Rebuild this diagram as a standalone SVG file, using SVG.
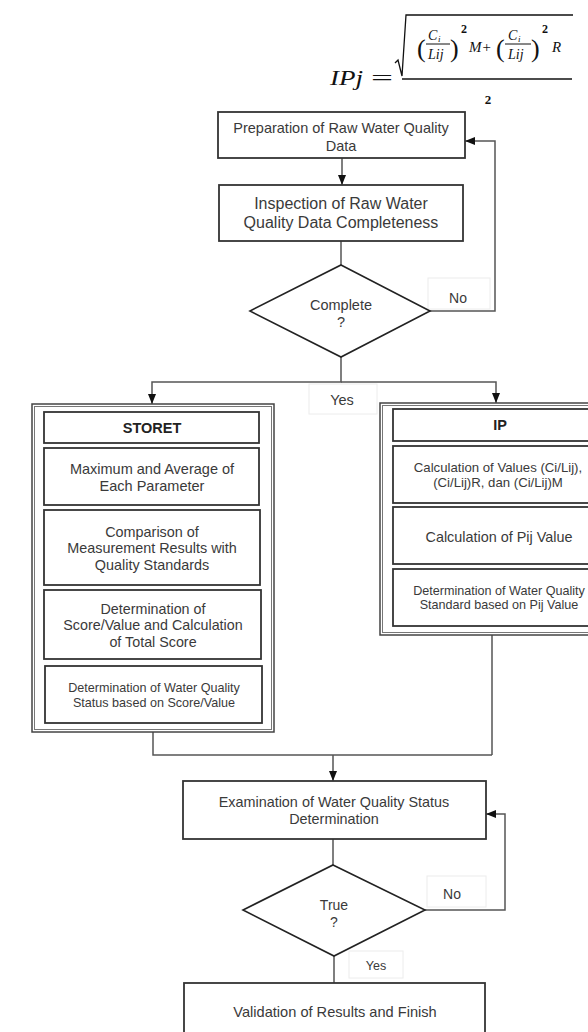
<svg xmlns="http://www.w3.org/2000/svg" width="588" height="1032" viewBox="0 0 588 1032">
  <style>
    .box{fill:#fff;stroke:#333;stroke-width:1.8}
    .outer{fill:#fff;stroke:#444;stroke-width:1.5}
    .outer2{fill:none;stroke:#777;stroke-width:1}
    .dia{fill:#fff;stroke:#222;stroke-width:1.6}
    .t{font-family:"Liberation Sans",Arial,sans-serif;fill:#3a3a3a;text-anchor:middle}
    .b{font-weight:bold;fill:#222}
    .conn{fill:none;stroke:#555;stroke-width:1.5}
    .lbl{fill:#fff;stroke:#ececec;stroke-width:1}
    .m{font-family:"Liberation Serif","DejaVu Serif",serif;font-style:italic;fill:#111}
    .mu{font-family:"Liberation Serif","DejaVu Serif",serif;fill:#111}
  </style>
  <defs>
    <marker id="ah" viewBox="0 0 10 8" refX="10" refY="4" markerWidth="10" markerHeight="8" markerUnits="userSpaceOnUse" orient="auto">
      <path d="M0,0 L10,4 L0,8 z" fill="#111"/>
    </marker>
  </defs>
  <rect width="588" height="1032" fill="#fff"/>

  <!-- IP index formula -->
  <g id="formula">
    <text class="m" x="330" y="85" font-size="20" textLength="33" lengthAdjust="spacingAndGlyphs">IPj</text>
    <text class="mu" x="371" y="85" font-size="20" textLength="22" lengthAdjust="spacingAndGlyphs">=</text>
    <line x1="402" y1="79" x2="572" y2="79" stroke="#111" stroke-width="1.3"/>
    <text class="mu" x="488" y="104" font-size="13" font-weight="bold" text-anchor="middle">2</text>
    <path d="M395,63 L398,60 L402,76 L406,15 L573,15" fill="none" stroke="#111" stroke-width="1.3"/>
    <text class="mu" x="417" y="57" font-size="26">(</text>
    <text class="m" x="428" y="40" font-size="14">C</text>
    <text class="m" x="438" y="42" font-size="9">i</text>
    <line x1="426" y1="44" x2="450" y2="44" stroke="#111" stroke-width="1"/>
    <text class="m" x="428" y="59" font-size="14">Lij</text>
    <text class="mu" x="450" y="57" font-size="26">)</text>
    <text class="mu" x="461" y="33" font-size="12" font-weight="bold">2</text>
    <text class="m" x="469" y="52" font-size="15">M+</text>
    <text class="mu" x="496" y="57" font-size="26">(</text>
    <text class="m" x="508" y="40" font-size="14">C</text>
    <text class="m" x="518" y="42" font-size="9">i</text>
    <line x1="505" y1="44" x2="531" y2="44" stroke="#111" stroke-width="1"/>
    <text class="m" x="508" y="59" font-size="14">Lij</text>
    <text class="mu" x="531" y="57" font-size="26">)</text>
    <text class="mu" x="542" y="33" font-size="12" font-weight="bold">2</text>
    <text class="m" x="552" y="52" font-size="15">R</text>
  </g>

  <!-- connectors -->
  <g id="connectors">
    <path class="conn" d="M342,158 L342,185" marker-end="url(#ah)"/>
    <path class="conn" d="M341,241 L341,265"/>
    <path class="conn" d="M430,311 L495,311 L495,141 L465,141" marker-end="url(#ah)"/>
    <path class="conn" d="M341,357 L341,382 L152,382 L152,404" marker-end="url(#ah)"/>
    <path class="conn" d="M341,382 L496,382 L496,403" marker-end="url(#ah)"/>
    <path class="conn" d="M153,732 L153,755 L492,755"/>
    <path class="conn" d="M492,635 L492,755"/>
    <path class="conn" d="M333,755 L333,781" marker-end="url(#ah)"/>
    <path class="conn" d="M333,839 L333,865"/>
    <path class="conn" d="M425,910 L505,910 L505,814 L486,814" marker-end="url(#ah)"/>
    <path class="conn" d="M334,956 L334,983"/>
  </g>

  <g id="prep">
    <rect class="box" x="218" y="112" width="247" height="46"/>
    <text class="t" font-size="14.5" x="341" y="133">Preparation of Raw Water Quality</text>
    <text class="t" font-size="14.5" x="341" y="151">Data</text>
  </g>

  <g id="inspect">
    <rect class="box" x="219" y="185" width="244" height="56"/>
    <text class="t" font-size="16" x="341" y="209">Inspection of Raw Water</text>
    <text class="t" font-size="16" x="341" y="228">Quality Data Completeness</text>
  </g>

  <g id="label-no-1">
    <rect class="lbl" x="428" y="278" width="62" height="31"/>
    <text class="t" font-size="14" x="458" y="303">No</text>
  </g>

  <g id="complete">
    <polygon class="dia" points="341,265 430,311 341,357 250,311"/>
    <text class="t" font-size="14.5" x="341" y="310">Complete</text>
    <text class="t" font-size="14.5" x="341" y="327">?</text>
  </g>

  <g id="label-yes-1">
    <rect class="lbl" x="309" y="384" width="68" height="30"/>
    <text class="t" font-size="14.5" x="342" y="405">Yes</text>
  </g>

  <g id="storet">
    <rect class="outer" x="32" y="404" width="242" height="328"/>
    <rect class="outer2" x="34.5" y="406.5" width="237" height="323"/>
    <rect class="box" x="44" y="412" width="215" height="31"/>
    <text class="t b" font-size="14.5" x="152" y="433">STORET</text>
    <rect class="box" x="44" y="448" width="215" height="57"/>
    <text class="t" font-size="14.5" x="152" y="474">Maximum and Average of</text>
    <text class="t" font-size="14.5" x="152" y="491">Each Parameter</text>
    <rect class="box" x="44" y="510" width="216" height="75"/>
    <text class="t" font-size="14.4" x="152" y="537">Comparison of</text>
    <text class="t" font-size="14.4" x="152" y="553">Measurement Results with</text>
    <text class="t" font-size="14.4" x="152" y="570">Quality Standards</text>
    <rect class="box" x="44" y="590" width="217" height="69"/>
    <text class="t" font-size="14.3" x="153" y="614">Determination of</text>
    <text class="t" font-size="14.3" x="153" y="630">Score/Value and Calculation</text>
    <text class="t" font-size="14.3" x="153" y="647">of Total Score</text>
    <rect class="box" x="45" y="666" width="217" height="57"/>
    <text class="t" font-size="12.6" x="154" y="692">Determination of Water Quality</text>
    <text class="t" font-size="12.6" x="154" y="707">Status based on Score/Value</text>
  </g>

  <g id="ip">
    <rect class="outer" x="380" y="403" width="240" height="232"/>
    <rect class="outer2" x="382.5" y="405.5" width="235" height="227"/>
    <rect class="box" x="393" y="409" width="222" height="32"/>
    <text class="t b" font-size="14.5" x="500" y="430">IP</text>
    <rect class="box" x="393" y="446" width="222" height="57"/>
    <text class="t" font-size="13.2" x="498" y="472">Calculation of Values (Ci/Lij),</text>
    <text class="t" font-size="13.2" x="498" y="487">(Ci/Lij)R, dan (Ci/Lij)M</text>
    <rect class="box" x="393" y="507" width="222" height="57"/>
    <text class="t" font-size="14.4" x="499" y="542">Calculation of Pij Value</text>
    <rect class="box" x="393" y="569" width="222" height="57"/>
    <text class="t" font-size="12.6" x="499" y="595">Determination of Water Quality</text>
    <text class="t" font-size="12.6" x="499" y="609">Standard based on Pij Value</text>
  </g>

  <g id="examine">
    <rect class="box" x="183" y="781" width="303" height="58"/>
    <text class="t" font-size="14.4" x="334" y="807">Examination of Water Quality Status</text>
    <text class="t" font-size="14.4" x="334" y="824">Determination</text>
  </g>

  <g id="label-no-2">
    <rect class="lbl" x="427" y="876" width="59" height="31"/>
    <text class="t" font-size="14" x="452" y="899">No</text>
  </g>

  <g id="true">
    <polygon class="dia" points="333,865 425,910 334,956 243,910"/>
    <text class="t" font-size="14" x="334" y="910">True</text>
    <text class="t" font-size="14" x="334" y="927">?</text>
  </g>

  <g id="label-yes-2">
    <rect class="lbl" x="349" y="951" width="54" height="27"/>
    <text class="t" font-size="12.5" x="376" y="970">Yes</text>
  </g>

  <g id="validate">
    <rect class="box" x="184" y="983" width="301" height="60"/>
    <text class="t" font-size="14.6" x="335" y="1017">Validation of Results and Finish</text>
  </g>
</svg>
